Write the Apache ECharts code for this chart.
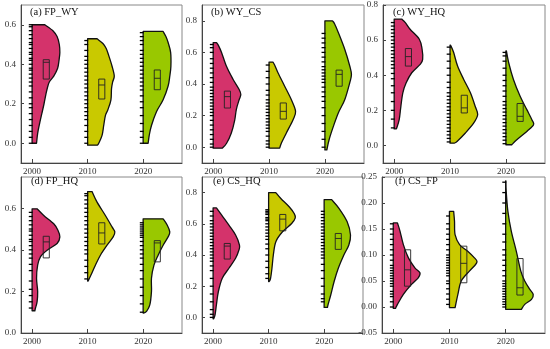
<!DOCTYPE html>
<html><head><meta charset="utf-8">
<script src="https://cdn.jsdelivr.net/npm/echarts@6/dist/echarts.min.js"></script>
<style>html,body{margin:0;padding:0;background:#fff}#c{width:550px;height:349px}</style>
</head><body><div id="c"></div><script>
// ---------- data ----------
const years = [2000, 2010, 2020];
const panelTitles = ['(a) FP_WY', '(b) WY_CS', '(c) WY_HQ', '(d) FP_HQ', '(e) CS_HQ', '(f) CS_FP'];
const yTickValues = [
  [0, 0.2, 0.4, 0.6],
  [0, 0.2, 0.4, 0.6, 0.8],
  [0, 0.2, 0.4, 0.6, 0.8],
  [0, 0.2, 0.4, 0.6],
  [0, 0.2, 0.4, 0.6, 0.8],
  [-0.05, 0, 0.05, 0.1, 0.15, 0.2, 0.25]
];
const xTickValues = [2000, 2010, 2020];

// density profiles: [value, relative density] from min to max, one per year
const densA = [
  [[0,0.16],[0.05,0.2],[0.1,0.27],[0.15,0.35],[0.2,0.43],[0.25,0.5],[0.28,0.55],[0.31,0.62],[0.34,0.78],[0.38,0.92],[0.42,0.97],[0.46,1.0],[0.5,0.98],[0.54,0.9],[0.57,0.75],[0.6,0.46]],
  [[-0.01,0.35],[0.0,0.4],[0.04,0.52],[0.09,0.58],[0.14,0.64],[0.17,0.73],[0.22,0.84],[0.275,0.86],[0.31,0.9],[0.34,0.96],[0.39,0.88],[0.44,0.77],[0.48,0.67],[0.505,0.55],[0.529,0.34]],
  [[0,0.18],[0.04,0.22],[0.09,0.3],[0.16,0.48],[0.22,0.72],[0.29,0.9],[0.34,0.96],[0.39,1.0],[0.46,0.99],[0.51,0.9],[0.54,0.82],[0.566,0.72]]
];
const densB = [
  [[-0.006,0.33],[0.025,0.48],[0.09,0.65],[0.17,0.77],[0.24,0.83],[0.3,0.93],[0.333,0.99],[0.365,0.93],[0.43,0.71],[0.51,0.48],[0.6,0.3],[0.64,0.2],[0.662,0.12]],
  [[-0.006,0.38],[0.025,0.44],[0.09,0.62],[0.174,0.86],[0.227,0.95],[0.3,0.8],[0.386,0.56],[0.471,0.32],[0.52,0.2],[0.539,0.14]],
  [[-0.017,0.07],[0.047,0.15],[0.13,0.3],[0.217,0.48],[0.3,0.71],[0.408,0.89],[0.46,0.95],[0.514,0.89],[0.62,0.71],[0.726,0.48],[0.78,0.35],[0.8,0.27]]
];
const densC = [
  [[0.094,0.08],[0.147,0.18],[0.223,0.24],[0.3,0.31],[0.357,0.43],[0.414,0.63],[0.462,0.93],[0.49,1.02],[0.548,1.0],[0.605,0.9],[0.662,0.57],[0.7,0.4],[0.72,0.27]],
  [[0.013,0.15],[0.023,0.25],[0.071,0.55],[0.128,0.85],[0.176,0.99],[0.223,0.9],[0.3,0.73],[0.376,0.49],[0.452,0.27],[0.529,0.13],[0.571,0.02]],
  [[0.004,0.21],[0.032,0.39],[0.08,0.75],[0.118,0.99],[0.147,0.93],[0.204,0.75],[0.28,0.51],[0.376,0.27],[0.471,0.1],[0.538,0.02]]
];
const densD = [
  [[0.107,0.1],[0.119,0.12],[0.151,0.18],[0.2,0.2],[0.263,0.16],[0.326,0.2],[0.366,0.3],[0.398,0.54],[0.43,0.9],[0.462,1.0],[0.494,0.93],[0.525,0.78],[0.565,0.42],[0.597,0.18]],
  [[0.25,0.02],[0.279,0.12],[0.326,0.28],[0.374,0.46],[0.422,0.7],[0.462,0.92],[0.486,0.98],[0.51,0.88],[0.565,0.64],[0.629,0.34],[0.68,0.16]],
  [[0.096,0.02],[0.104,0.12],[0.135,0.24],[0.2,0.3],[0.263,0.3],[0.326,0.39],[0.374,0.54],[0.422,0.72],[0.462,0.9],[0.486,0.96],[0.518,0.87],[0.549,0.72]]
];
const densE = [
  [[-0.009,0.02],[0.017,0.07],[0.081,0.12],[0.166,0.19],[0.251,0.33],[0.315,0.57],[0.379,0.81],[0.432,0.93],[0.464,0.95],[0.528,0.81],[0.591,0.57],[0.655,0.31],[0.702,0.12]],
  [[0.23,0.02],[0.251,0.07],[0.315,0.12],[0.4,0.17],[0.485,0.26],[0.549,0.5],[0.602,0.83],[0.638,0.96],[0.666,0.92],[0.709,0.74],[0.762,0.44],[0.8,0.26]],
  [[0.064,0.12],[0.081,0.14],[0.145,0.24],[0.23,0.36],[0.315,0.51],[0.4,0.71],[0.464,0.89],[0.528,0.95],[0.613,0.83],[0.698,0.54],[0.755,0.27]]
];
const densF = [
  [[-0.0026,0.08],[0.0051,0.15],[0.0243,0.36],[0.0434,0.65],[0.0562,0.89],[0.0658,0.95],[0.0754,0.77],[0.0945,0.54],[0.12,0.36],[0.146,0.24],[0.1616,0.15]],
  [[-0.0013,0.2],[0.0243,0.3],[0.05,0.42],[0.069,0.71],[0.0817,0.93],[0.088,0.98],[0.0945,0.89],[0.107,0.65],[0.12,0.36],[0.139,0.2],[0.165,0.18],[0.184,0.15]],
  [[-0.0045,0.56],[0.0051,0.68],[0.0147,0.92],[0.0243,0.98],[0.0338,0.86],[0.05,0.68],[0.069,0.54],[0.107,0.38],[0.146,0.2],[0.184,0.08],[0.222,0.02],[0.2427,0.01]]
];

// box stats: [q1, median, q3]
const boxA = [[0.325,0.41,0.423],[0.224,0.295,0.325],[0.271,0.329,0.371]];
const boxB = [[0.248,0.32,0.355],[0.178,0.227,0.28],[0.386,0.461,0.488]];
const boxC = [[0.452,0.506,0.552],[0.185,0.214,0.286],[0.137,0.166,0.239]];
const boxD = [[0.361,0.438,0.465],[0.428,0.481,0.53],[0.342,0.433,0.444]];
const boxE = [[0.374,0.457,0.474],[0.555,0.63,0.66],[0.436,0.506,0.538]];
const boxF = [[0.04,0.0715,0.11],[0.0466,0.084,0.117],[0.023,0.037,0.0932]];

// rug (individual observations)
const rugA = [
  [0.0,0.03,0.06,0.09,0.12,0.15,0.18,0.2,0.23,0.26,0.29,0.31,0.33,0.35,0.37,0.38,0.4,0.42,0.43,0.45,0.46,0.48,0.5,0.51,0.53,0.55,0.57,0.59,0.6],
  [0.0,0.03,0.06,0.09,0.12,0.14,0.16,0.18,0.2,0.22,0.24,0.26,0.28,0.3,0.32,0.34,0.36,0.38,0.4,0.42,0.44,0.47,0.5,0.52],
  [0.0,0.03,0.06,0.1,0.14,0.18,0.21,0.24,0.27,0.29,0.31,0.33,0.35,0.37,0.39,0.41,0.43,0.45,0.47,0.5,0.52,0.54,0.56]
];
const rugB = [
  [0.0,0.02,0.05,0.08,0.11,0.14,0.17,0.2,0.22,0.24,0.26,0.28,0.3,0.32,0.34,0.36,0.38,0.41,0.44,0.47,0.5,0.53,0.56,0.6,0.63,0.65],
  [0.0,0.02,0.04,0.07,0.1,0.12,0.14,0.16,0.18,0.2,0.22,0.24,0.26,0.28,0.3,0.33,0.36,0.4,0.44,0.48,0.52],
  [0.0,0.05,0.1,0.15,0.2,0.25,0.29,0.32,0.35,0.38,0.41,0.43,0.45,0.47,0.49,0.51,0.54,0.57,0.6,0.63,0.66,0.69,0.72]
];
const rugC = [
  [0.1,0.15,0.2,0.25,0.3,0.34,0.38,0.41,0.44,0.46,0.48,0.5,0.52,0.54,0.56,0.58,0.6,0.62,0.64,0.66,0.68,0.7],
  [0.02,0.04,0.06,0.08,0.1,0.12,0.14,0.16,0.18,0.2,0.22,0.24,0.26,0.28,0.3,0.33,0.36,0.4,0.44,0.48,0.52,0.56],
  [0.01,0.03,0.05,0.07,0.09,0.11,0.13,0.15,0.17,0.19,0.21,0.23,0.25,0.28,0.31,0.34,0.37,0.4,0.44,0.48,0.51,0.53]
];
const rugD = [
  [0.12,0.15,0.18,0.21,0.25,0.3,0.33,0.36,0.38,0.4,0.42,0.44,0.45,0.47,0.49,0.5,0.52,0.54,0.56,0.58],
  [0.26,0.29,0.32,0.35,0.38,0.4,0.42,0.44,0.46,0.48,0.5,0.52,0.54,0.56,0.58,0.6,0.62,0.64,0.66,0.67],
  [0.1,0.14,0.18,0.22,0.26,0.3,0.33,0.36,0.38,0.4,0.42,0.44,0.46,0.47,0.48,0.49,0.5,0.51,0.52,0.53]
];
const rugE = [
  [0.0,0.02,0.05,0.1,0.15,0.2,0.25,0.3,0.33,0.36,0.38,0.4,0.42,0.44,0.46,0.48,0.5,0.52,0.54,0.56,0.58,0.6,0.62,0.65,0.68],
  [0.25,0.28,0.32,0.36,0.4,0.44,0.47,0.5,0.52,0.54,0.56,0.58,0.6,0.62,0.63,0.64,0.66,0.67,0.68,0.69],
  [0.1,0.12,0.15,0.2,0.25,0.3,0.34,0.38,0.4,0.42,0.44,0.46,0.48,0.5,0.52,0.54,0.56,0.58,0.6,0.62,0.64,0.66,0.68]
];
const rugF = [
  [0.0,0.01,0.02,0.025,0.03,0.04,0.045,0.05,0.055,0.06,0.065,0.07,0.075,0.08,0.09,0.1,0.11,0.12,0.13,0.14,0.15,0.16],
  [0.005,0.015,0.025,0.035,0.045,0.05,0.06,0.065,0.07,0.075,0.08,0.085,0.09,0.095,0.1,0.11,0.12,0.13,0.14,0.15,0.16,0.175],
  [0.0,0.005,0.01,0.015,0.02,0.025,0.03,0.035,0.04,0.045,0.05,0.06,0.07,0.08,0.09,0.1,0.11,0.125,0.14,0.16,0.18,0.2,0.22,0.24]
];

// ---------- layout / style ----------
const dens = [densA, densB, densC, densD, densE, densF];
const boxes = [boxA, boxB, boxC, boxD, boxE, boxF];
const rugs = [rugA, rugB, rugC, rugD, rugE, rugF];
const colors = ['#d4336b', '#c9c900', '#99c800'];
const yMin = [-0.1, -0.1, -0.1, 0, -0.1, -0.05];
const yMax = [0.7, 0.9, 0.8, 0.75, 0.9, 0.25];
const yDigits = [1, 1, 1, 1, 1, 2];
const gridPos = [
  {left: 21, top: 5, width: 161, height: 158},
  {left: 202, top: 5, width: 162, height: 158},
  {left: 383, top: 5, width: 162, height: 158},
  {left: 21, top: 177, width: 161, height: 156},
  {left: 202, top: 177, width: 161, height: 156},
  {left: 382, top: 177, width: 163, height: 156}
];
const titlePos = [[30, 7], [211, 7], [393, 7], [31, 176], [213, 176], [395, 176]];
const MAXW = 5;          // years of half-violin width at density 1
const BOX_X0 = 2.0, BOX_X1 = 3.1;
const RUG_L = 0.6, RUG_R = 0.1;
const FONT = 'Liberation Serif';

function f1(n) { return n.toFixed(2); }
// closed outline: straight left edge, smooth (Catmull-Rom) right edge
function violinPath(left, right) {
  let d = 'M' + f1(left[0][0]) + ',' + f1(left[0][1]) + 'L' + f1(left[1][0]) + ',' + f1(left[1][1]);
  d += 'L' + f1(right[0][0]) + ',' + f1(right[0][1]);
  const n = right.length;
  for (let i = 0; i < n - 1; i++) {
    const p0 = right[i - 1] || right[i], p1 = right[i], p2 = right[i + 1], p3 = right[i + 2] || right[i + 1];
    const c1 = [p1[0] + (p2[0] - p0[0]) / 6, p1[1] + (p2[1] - p0[1]) / 6];
    const c2 = [p2[0] - (p3[0] - p1[0]) / 6, p2[1] - (p3[1] - p1[1]) / 6];
    d += 'C' + f1(c1[0]) + ',' + f1(c1[1]) + ' ' + f1(c2[0]) + ',' + f1(c2[1]) + ' ' + f1(p2[0]) + ',' + f1(p2[1]);
  }
  return d + 'Z';
}

const grid = [], xAxis = [], yAxis = [], series = [], title = [];
for (let p = 0; p < 6; p++) {
  grid.push(Object.assign({show: true, borderColor: '#888', borderWidth: 1, backgroundColor: 'transparent'}, gridPos[p]));
  title.push({text: panelTitles[p], left: titlePos[p][0], top: titlePos[p][1], padding: 0,
    textStyle: {fontFamily: FONT, fontSize: 10.5, fontWeight: 'normal', color: '#111'}});
  xAxis.push({
    type: 'value', gridIndex: p, min: 1998, max: 2027,
    axisLine: {show: true, onZero: false, lineStyle: {color: '#444', width: 1}},
    axisTick: {show: true, inside: true, length: 4, customValues: xTickValues, lineStyle: {color: '#444'}},
    axisLabel: {show: true, margin: 4, customValues: xTickValues, formatter: v => String(v),
      fontFamily: FONT, fontSize: 9, color: '#333'},
    splitLine: {show: false}
  });
  yAxis.push({
    type: 'value', gridIndex: p, min: yMin[p], max: yMax[p],
    axisLine: {show: true, onZero: false, lineStyle: {color: '#444', width: 1}},
    axisTick: {show: true, inside: true, length: 3, customValues: yTickValues[p], lineStyle: {color: '#444'}},
    axisLabel: {show: true, margin: 5, customValues: yTickValues[p], formatter: v => v.toFixed(yDigits[p]),
      fontFamily: FONT, fontSize: 9, color: '#333'},
    splitLine: {show: false}
  });

  // violins + boxes
  series.push({
    type: 'custom', xAxisIndex: p, yAxisIndex: p, silent: true, z: 2,
    data: years.map((yr, i) => [yr, i]),
    renderItem: (function (pi) {
      return function (params, api) {
        const yr = api.value(0), i = api.value(1);
        const prof = dens[pi][i];
        const left = [api.coord([yr, prof[0][0]]), api.coord([yr, prof[prof.length - 1][0]])];
        const right = [];
        for (let k = prof.length - 1; k >= 0; k--) {
          right.push(api.coord([yr + prof[k][1] * MAXW, prof[k][0]]));
        }
        const b = boxes[pi][i];
        const tl = api.coord([yr + BOX_X0, b[2]]);
        const br = api.coord([yr + BOX_X1, b[0]]);
        const m0 = api.coord([yr + BOX_X0, b[1]]);
        const m1 = api.coord([yr + BOX_X1, b[1]]);
        return {
          type: 'group',
          children: [
            {type: 'path', shape: {pathData: violinPath(left, right)},
              style: {fill: colors[i], stroke: '#111', lineWidth: 1.3, lineJoin: 'round'}},
            {type: 'rect', shape: {x: tl[0], y: tl[1], width: br[0] - tl[0], height: br[1] - tl[1]},
              style: {fill: 'transparent', stroke: '#222', lineWidth: 0.9}},
            {type: 'line', shape: {x1: m0[0], y1: m0[1], x2: m1[0], y2: m1[1]}, style: {stroke: '#222', lineWidth: 0.9}}
          ]
        };
      };
    })(p)
  });

  // rug ticks
  const rugData = [];
  rugs[p].forEach((arr, i) => arr.forEach(v => rugData.push([years[i], v])));
  series.push({
    type: 'custom', xAxisIndex: p, yAxisIndex: p, silent: true, z: 3,
    data: rugData,
    renderItem: function (params, api) {
      const a = api.coord([api.value(0) - RUG_L, api.value(1)]);
      const b = api.coord([api.value(0) + RUG_R, api.value(1)]);
      return {type: 'line', shape: {x1: a[0], y1: a[1], x2: b[0], y2: b[1]}, style: {stroke: '#000', lineWidth: 1.3}};
    }
  });
}

const chart = echarts.init(document.getElementById('c'), null, {renderer: 'canvas'});
chart.setOption({animation: false, backgroundColor: '#fff', title, grid, xAxis, yAxis, series});
</script></body></html>
